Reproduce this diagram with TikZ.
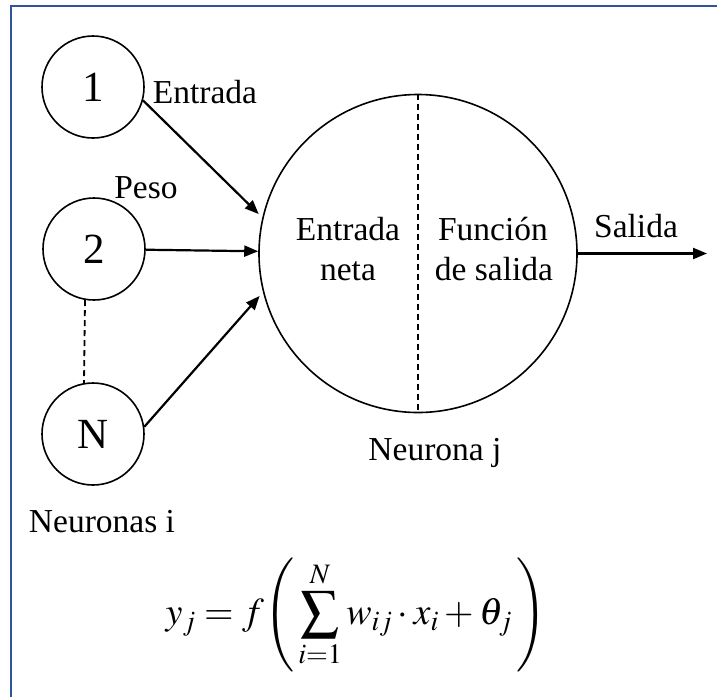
\documentclass[tikz,border=0pt]{standalone}
\usepackage{mathptmx}
\usepackage{fontspec}
\setmainfont{Liberation Serif}
\usetikzlibrary{arrows.meta}
\definecolor{framecol}{RGB}{47,85,151}
\begin{document}
\begin{tikzpicture}[x=1pt,y=-1pt,
  neur/.style={circle,draw,line width=1.6pt,minimum size=102pt,inner sep=0pt,font=\fontsize{43}{50}\selectfont},
  bigc/.style={circle,draw,line width=1.6pt,minimum size=318pt,inner sep=0pt},
  lbl/.style={font=\fontsize{33.5}{40}\selectfont,inner sep=0pt,anchor=base},
  arr/.style={line width=2.2pt,-{Triangle[length=14pt,width=11pt]}},
  dsh/.style={line width=1.8pt,dash pattern=on 6pt off 4pt}]
\useasboundingbox (0,0) rectangle (717,697);
\draw[framecol,line width=2pt] (11,697) -- (11,6) -- (717,6);
% neurons i
\node[neur] (n1) at (93,87) {1};
\node[neur] (n2) at (94,249) {2};
\node[neur] (nN) at (93,434) {N};
% neuron j
\node[bigc] (J) at (418,253.5) {};
\coordinate (out) at (707,253.5);
% connectors
\draw[arr,shorten >=5pt] (n1.-15) -- (J.167);
\draw[arr] (n2) -- (J);
\draw[arr,shorten >=5pt] (nN.8) -- (J.194);
\draw[arr] (J.east) -- (out);
\draw[dsh] (n2.260) -- (nN.100);
\draw[dsh] (J.north) -- (J.south);
% labels
\node[lbl] (lentrada) at (205,103) {Entrada};
\node[lbl] (lpeso) at (146,198) {Peso};
\node[lbl] (lent1) at (348,240) {Entrada};
\node[lbl] (lent2) at (348,280) {neta};
\node[lbl] (lfun1) at (493,240) {Función};
\node[lbl] (lfun2) at (494,280) {de salida};
\node[lbl] (lsal) at (636,237) {Salida};
\node[lbl] (lnj) at (435,460) {Neurona j};
\node[lbl] (lni) at (102,532) {Neuronas i};
% formula
\node[font=\fontsize{38}{44}\selectfont,inner sep=0pt] (eq) at (356,615)
  {$\displaystyle y_j = f\!\left(\,\sum_{i=1}^{N} w_{ij}\cdot x_i+\theta_j\,\right)$};
\end{tikzpicture}
\end{document}
